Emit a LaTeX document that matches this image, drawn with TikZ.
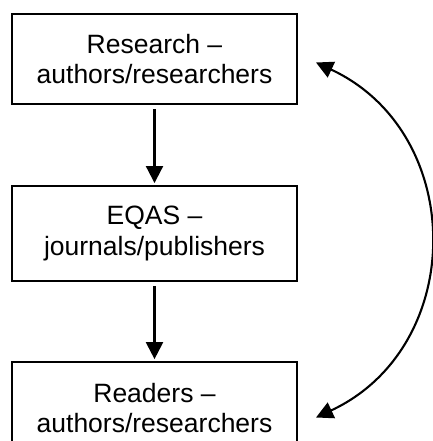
\documentclass[tikz,border=0pt]{standalone}
\usepackage{fontspec}
\setmainfont{Liberation Sans}
\usetikzlibrary{arrows.meta, positioning}

\begin{document}
\begin{tikzpicture}[
  x=1pt, y=1pt,
  node distance=80pt,
  box/.style={
    draw=black, line width=2.1pt,
    minimum width=285pt, minimum height=90pt,
    font=\fontsize{26.5}{30.5}\selectfont, align=center, inner sep=4pt
  },
  arrow/.style={-{Triangle[length=17pt, width=17pt]}, line width=2.1pt,
    shorten <=4pt, shorten >=2pt},
  feedback/.style={{Triangle[length=17pt, width=17pt]}-{Triangle[length=17pt, width=17pt]},
    line width=2.1pt},
]

\useasboundingbox (0,0) rectangle (432,-441);

% Stage 1 — Research
\node[box] (research) at (154.5,-59) {Research –\\authors/researchers};

% Stage 2 — EQAS
\node[box, minimum height=95pt, below=80pt of research] (eqas) {EQAS –\\journals/publishers};

% Stage 3 — Readers (cut off at the page edge)
\node[box, minimum height=92pt, below=79pt of eqas] (readers) {Readers –\\authors/researchers};

% Ends of the feedback loop
\coordinate (fbtop) at (316,-62.5);
\coordinate (fbbot) at (316,-417.5);

% Arrows
\draw[arrow] (research) -- (eqas);
\draw[arrow] (eqas) -- (readers);
\draw[feedback] (fbbot) to[out=25, in=-25, distance=167pt] (fbtop);

\end{tikzpicture}
\end{document}
